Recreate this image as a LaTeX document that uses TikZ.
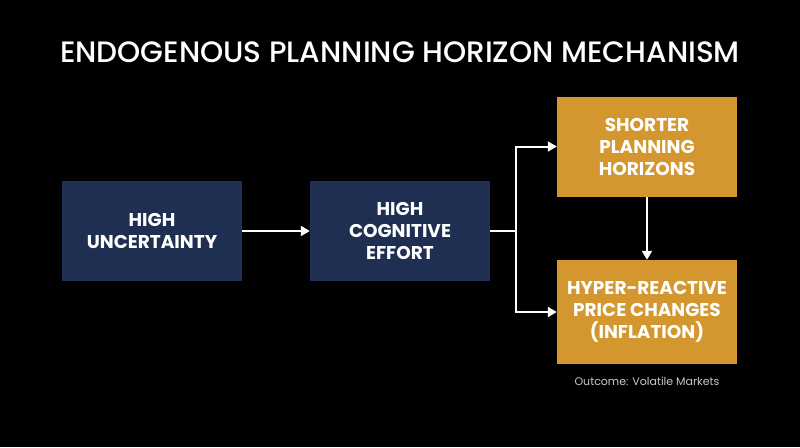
\documentclass[tikz,border=0pt]{standalone}
\usepackage{fontspec}
\setmainfont{Poppins}
\newfontfamily\titlefont{Poppins Medium}
\usetikzlibrary{arrows.meta}
\definecolor{navy}{HTML}{1E2F52}
\definecolor{gold}{HTML}{D4962E}
\definecolor{note}{HTML}{C8C8C8}
\begin{document}
\begin{tikzpicture}[x=1pt,y=-1pt,
  navybox/.style={fill=navy,draw=none,minimum width=180pt,minimum height=100pt,text=white,align=center,font=\fontsize{18.5}{22}\selectfont\bfseries,inner sep=0pt},
  goldbox/.style={fill=gold,draw=none,minimum width=180pt,text=white,align=center,font=\fontsize{18.5}{22}\selectfont\bfseries,inner sep=0pt},
  link/.style={draw=white,line width=2pt,-{Triangle[length=9pt,width=10pt]}}]
\fill[black] (0,0) rectangle (800,447);
\useasboundingbox (0,0) rectangle (800,447);
\node (title) at (400,52) {\color{white}\titlefont\fontsize{29.5}{34}\selectfont ENDOGENOUS PLANNING HORIZON MECHANISM};
\node[navybox] (unc) at (152,231) {HIGH\\UNCERTAINTY};
\node[navybox] (cog) at (400,231) {HIGH\\COGNITIVE\\EFFORT};
\node[goldbox,minimum height=100pt] (short) at (647,146.5) {SHORTER\\PLANNING\\HORIZONS};
\node[goldbox,minimum height=104pt] (hyper) at (647,312) {HYPER-REACTIVE\\PRICE CHANGES\\(INFLATION)};
\node[text=note,font=\fontsize{11}{13}\selectfont] (out) at (647,381) {Outcome: Volatile Markets};
\coordinate (split) at (516,231);
\draw[link] (unc.east) -- (cog.east -| cog.west);
\draw[draw=white,line width=2pt] (cog.east) -- (split);
\draw[link] (split) |- (short.west);
\draw[link] (split) |- (hyper.west);
\draw[link] (short.south) -- (hyper.north);
\end{tikzpicture}
\end{document}
